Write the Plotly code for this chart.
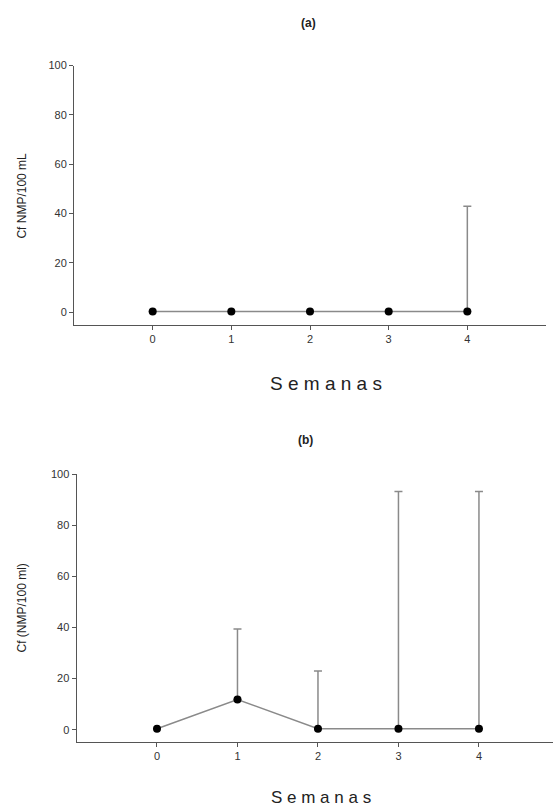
import plotly.graph_objects as go

W, H = 553, 808

semanas = [0, 1, 2, 3, 4]
tick_vals_y = [0, 20, 40, 60, 80, 100]

# Panel (a)
cf_a = [0.3, 0.3, 0.3, 0.3, 0.3]
upper_a = [None, None, None, None, 43]
# Panel (b)
cf_b = [0.4, 11.8, 0.4, 0.4, 0.4]
upper_b = [None, 39.4, 23.0, 93.2, 93.2]

err_a = [None if u is None else u - m for u, m in zip(upper_a, cf_a)]
err_b = [None if u is None else u - m for u, m in zip(upper_b, cf_b)]

LINE = "#8a8a8a"
AX = "#555555"
FONT = "Liberation Sans, Arial, sans-serif"

def px_x(p):
    return p / W

def px_y(p):
    return 1 - p / H

fig = go.Figure()

for cf, err, xa, ya in [(cf_a, err_a, "x", "y"), (cf_b, err_b, "x2", "y2")]:
    fig.add_trace(go.Scatter(
        x=semanas, y=cf, mode="lines+markers", xaxis=xa, yaxis=ya,
        line=dict(color=LINE, width=1.5),
        marker=dict(color="black", size=8),
        error_y=dict(type="data", array=err, arrayminus=[None] * 5,
                     symmetric=False, color=LINE, thickness=1.5, width=4),
        showlegend=False,
    ))

axis_common = dict(showline=True, linecolor=AX, linewidth=1, ticks="outside",
                   ticklen=4, tickcolor=AX, tickwidth=1, showgrid=False,
                   zeroline=False, tickfont=dict(family=FONT, size=11, color="#333333"))

fig.update_layout(
    width=W, height=H, margin=dict(l=0, r=0, t=0, b=0),
    paper_bgcolor="white", plot_bgcolor="white",
    xaxis=dict(domain=[px_x(74), px_x(546)], range=[-1, 5], anchor="y",
               tickvals=semanas, **axis_common),
    yaxis=dict(domain=[px_y(321.3), px_y(60)], range=[-5.15, 100], anchor="x",
               tickvals=tick_vals_y, **axis_common),
    xaxis2=dict(domain=[px_x(76.5), 1], range=[-1, 4.92], anchor="y2",
                tickvals=semanas, **axis_common),
    yaxis2=dict(domain=[px_y(741.5), px_y(471.7)], range=[-4.8, 100], anchor="x2",
                tickvals=tick_vals_y, **axis_common),
)

def ann(text, x, y, size, angle=0, bold=False):
    fig.add_annotation(text=("<b>%s</b>" % text) if bold else text,
                       x=px_x(x), y=px_y(y), xref="paper", yref="paper",
                       showarrow=False, textangle=angle,
                       font=dict(family=FONT, size=size, color="#222222"),
                       xanchor="center", yanchor="middle")

ann("(a)", 308, 17, 12, bold=True)
ann("(b)", 305, 437, 12, bold=True)
ann("Cf NMP/100 mL", 22, 191, 12, angle=-90)
ann("Cf (NMP/100 ml)", 22, 607, 12, angle=-90)
ann("S e m a n a s", 326, 380, 19)
ann("S e m a n a s", 321, 797, 17)

fig.write_html("out.html")
